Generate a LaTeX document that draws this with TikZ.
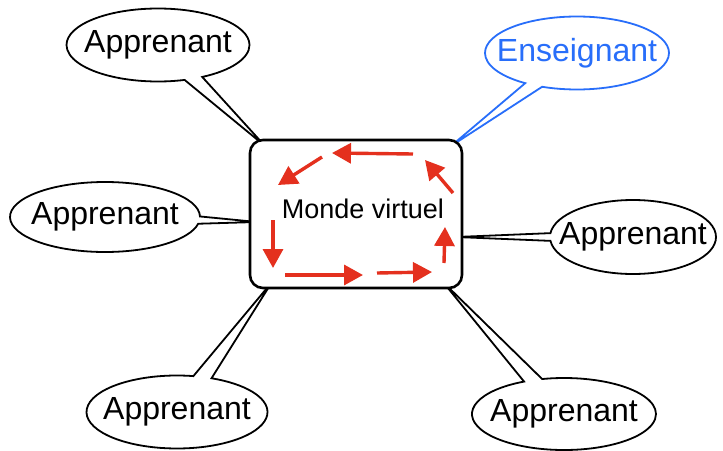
\documentclass[tikz,border=0pt]{standalone}
\usepackage{fontspec}
\setmainfont{Liberation Sans}
\usetikzlibrary{shapes.callouts,arrows.meta,backgrounds}
\definecolor{ensblue}{RGB}{40,110,250}
\definecolor{rouge}{RGB}{228,48,30}
\tikzset{
  bulle/.style={ellipse callout,draw,fill=white,line width=1.8pt,inner xsep=-16pt,inner ysep=0pt,
    minimum width=183pt,minimum height=73pt,callout pointer arc=12,font=\fontsize{32}{36}\selectfont},
  fleche/.style={rouge,line width=3.4pt,-{Triangle[length=19pt,width=20pt]}}
}
\begin{document}
\begin{tikzpicture}[x=1pt,y=-1pt]
  \useasboundingbox (0,0) rectangle (723,450);
  % the shared world
  \node[draw,fill=white,line width=2.6pt,rounded corners=13pt,minimum width=212pt,minimum height=148pt] (monde) at (356,214) {};
  \node[font=\fontsize{27}{30}\selectfont] (titre) at (363,209) {Monde virtuel};
  % tips of the callouts, hidden under the box
  \coordinate (p1) at (265,146);
  \coordinate (p2) at (451,146);
  \coordinate (p3) at (257,222);
  \coordinate (p4) at (456,237);
  \coordinate (p5) at (272,282);
  \coordinate (p6) at (443,282);
  \begin{pgfonlayer}{background}
    \node[bulle,callout absolute pointer=(p1)] (app1) at (158,45) {Apprenant};
    \node[bulle,draw=ensblue,text=ensblue,minimum width=184pt,callout absolute pointer=(p2)] (ens) at (577,53) {Enseignant};
    \node[bulle,minimum width=190pt,minimum height=70pt,callout absolute pointer=(p3)] (app2) at (105,217) {Apprenant};
    \node[bulle,minimum width=166pt,minimum height=74pt,callout absolute pointer=(p4)] (app3) at (633,237) {Apprenant};
    \node[bulle,minimum width=181pt,callout absolute pointer=(p5)] (app4) at (177,412) {Apprenant};
    \node[bulle,minimum width=184pt,minimum height=72pt,callout absolute pointer=(p6)] (app5) at (564,414) {Apprenant};
  \end{pgfonlayer}
  % the red loop inside the box
  \foreach \xa/\ya/\xb/\yb in {413/154/332/153, 322/157/278/185, 273/220/273/268, 285/275/363/275,
                     377/273/432/272, 444/263/445/227, 453/193/425/160}
    \draw[fleche] (\xa,\ya) -- (\xb,\yb);
\end{tikzpicture}
\end{document}
